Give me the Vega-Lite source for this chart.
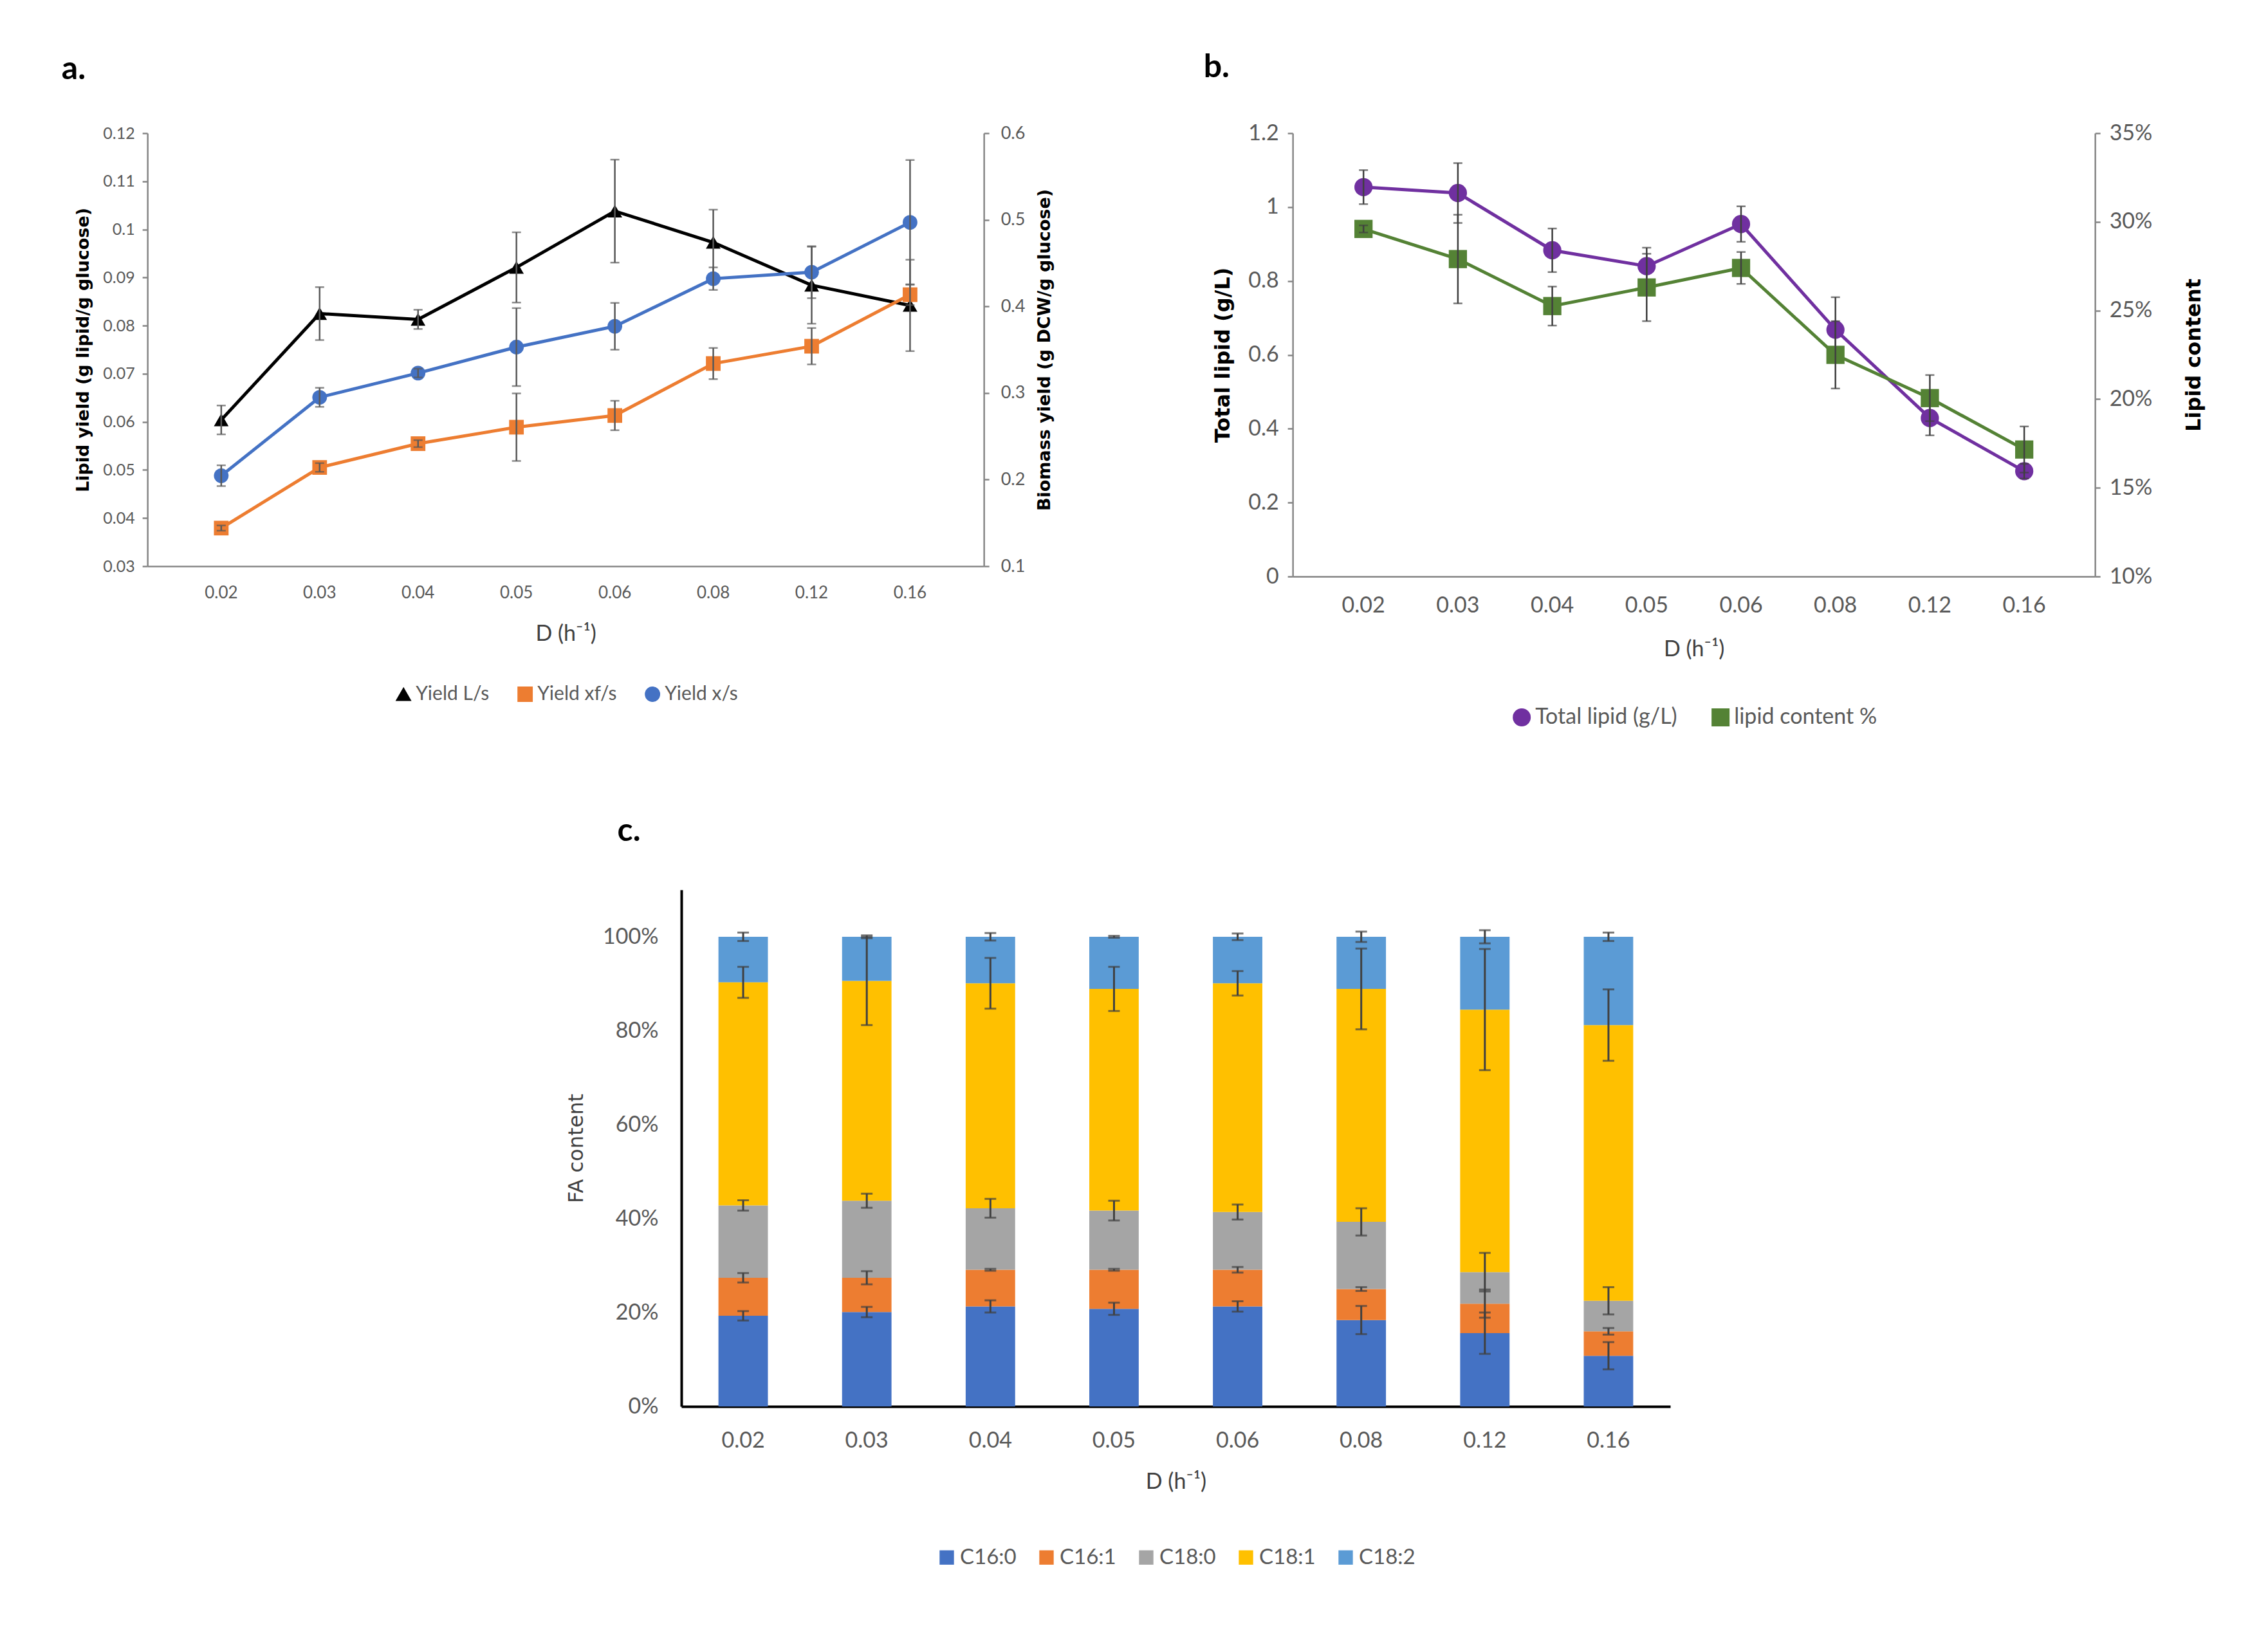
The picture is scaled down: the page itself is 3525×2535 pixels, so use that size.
{
  "$schema": "https://vega.github.io/schema/vega-lite/v6.json",
  "background": "white",
  "padding": {"left": 95, "top": 80, "right": 20, "bottom": 20},
  "config": {
    "view": {"stroke": null},
    "font": "Lato",
    "axis": {"labelFont": "Lato", "labelColor": "#595959", "titleColor": "#404040", "domainColor": "#868686", "tickColor": "#868686", "grid": false, "domainWidth": 2.5, "tickWidth": 2.5},
    "legend": {"labelFont": "Lato", "labelColor": "#595959", "orient": "bottom", "direction": "horizontal", "labelLimit": 0, "layout": {"bottom": {"anchor": "middle"}}},
    "title": {"font": "Lato", "fontWeight": "bold", "color": "#000000", "anchor": "start", "frame": "bounds"}
  },
  "datasets": {
    "a": [
      {"D": "0.02", "series": "Yield L/s", "v": 0.0604, "e": 0.003},
      {"D": "0.03", "series": "Yield L/s", "v": 0.0825, "e": 0.0055},
      {"D": "0.04", "series": "Yield L/s", "v": 0.0813, "e": 0.002},
      {"D": "0.05", "series": "Yield L/s", "v": 0.0921, "e": 0.0073},
      {"D": "0.06", "series": "Yield L/s", "v": 0.1038, "e": 0.0107},
      {"D": "0.08", "series": "Yield L/s", "v": 0.0973, "e": 0.0068},
      {"D": "0.12", "series": "Yield L/s", "v": 0.0884, "e": 0.008},
      {"D": "0.16", "series": "Yield L/s", "v": 0.0842, "e": 0.0095},
      {"D": "0.02", "series": "Yield xf/s", "v": 0.144, "e": 0.003},
      {"D": "0.03", "series": "Yield xf/s", "v": 0.214, "e": 0.005},
      {"D": "0.04", "series": "Yield xf/s", "v": 0.2415, "e": 0.004},
      {"D": "0.05", "series": "Yield xf/s", "v": 0.2605, "e": 0.039},
      {"D": "0.06", "series": "Yield xf/s", "v": 0.274, "e": 0.017},
      {"D": "0.08", "series": "Yield xf/s", "v": 0.334, "e": 0.018},
      {"D": "0.12", "series": "Yield xf/s", "v": 0.354, "e": 0.021},
      {"D": "0.16", "series": "Yield xf/s", "v": 0.4135, "e": 0.012},
      {"D": "0.02", "series": "Yield x/s", "v": 0.2045, "e": 0.012},
      {"D": "0.03", "series": "Yield x/s", "v": 0.295, "e": 0.011},
      {"D": "0.04", "series": "Yield x/s", "v": 0.323, "e": 0.005},
      {"D": "0.05", "series": "Yield x/s", "v": 0.353, "e": 0.045},
      {"D": "0.06", "series": "Yield x/s", "v": 0.377, "e": 0.027},
      {"D": "0.08", "series": "Yield x/s", "v": 0.432, "e": 0.013},
      {"D": "0.12", "series": "Yield x/s", "v": 0.4395, "e": 0.03},
      {"D": "0.16", "series": "Yield x/s", "v": 0.497, "e": 0.072}
    ],
    "b": [
      {"D": "0.02", "series": "Total lipid (g/L)", "v": 1.054, "e": 0.046},
      {"D": "0.03", "series": "Total lipid (g/L)", "v": 1.038, "e": 0.081},
      {"D": "0.04", "series": "Total lipid (g/L)", "v": 0.883, "e": 0.059},
      {"D": "0.05", "series": "Total lipid (g/L)", "v": 0.84, "e": 0.05},
      {"D": "0.06", "series": "Total lipid (g/L)", "v": 0.954, "e": 0.048},
      {"D": "0.08", "series": "Total lipid (g/L)", "v": 0.668, "e": 0.088},
      {"D": "0.12", "series": "Total lipid (g/L)", "v": 0.429, "e": 0.047},
      {"D": "0.16", "series": "Total lipid (g/L)", "v": 0.285, "e": 0.02},
      {"D": "0.02", "series": "lipid content %", "v": 0.296, "e": 0.002},
      {"D": "0.03", "series": "lipid content %", "v": 0.279, "e": 0.025},
      {"D": "0.04", "series": "lipid content %", "v": 0.2525, "e": 0.011},
      {"D": "0.05", "series": "lipid content %", "v": 0.263, "e": 0.019},
      {"D": "0.06", "series": "lipid content %", "v": 0.274, "e": 0.009},
      {"D": "0.08", "series": "lipid content %", "v": 0.225, "e": 0.019},
      {"D": "0.12", "series": "lipid content %", "v": 0.2006, "e": 0.013},
      {"D": "0.16", "series": "lipid content %", "v": 0.1716, "e": 0.013}
    ],
    "c": [
      {"D": "0.02", "FA": "C16:0", "v": 0.193, "e": 0.010},
      {"D": "0.02", "FA": "C16:1", "v": 0.081, "e": 0.010},
      {"D": "0.02", "FA": "C18:0", "v": 0.154, "e": 0.011},
      {"D": "0.02", "FA": "C18:1", "v": 0.475, "e": 0.033},
      {"D": "0.02", "FA": "C18:2", "v": 0.097, "e": 0.009},
      {"D": "0.03", "FA": "C16:0", "v": 0.201, "e": 0.011},
      {"D": "0.03", "FA": "C16:1", "v": 0.073, "e": 0.014},
      {"D": "0.03", "FA": "C18:0", "v": 0.164, "e": 0.015},
      {"D": "0.03", "FA": "C18:1", "v": 0.468, "e": 0.094},
      {"D": "0.03", "FA": "C18:2", "v": 0.094, "e": 0.003},
      {"D": "0.04", "FA": "C16:0", "v": 0.213, "e": 0.013},
      {"D": "0.04", "FA": "C16:1", "v": 0.078, "e": 0.002},
      {"D": "0.04", "FA": "C18:0", "v": 0.131, "e": 0.020},
      {"D": "0.04", "FA": "C18:1", "v": 0.479, "e": 0.054},
      {"D": "0.04", "FA": "C18:2", "v": 0.099, "e": 0.008},
      {"D": "0.05", "FA": "C16:0", "v": 0.208, "e": 0.013},
      {"D": "0.05", "FA": "C16:1", "v": 0.083, "e": 0.002},
      {"D": "0.05", "FA": "C18:0", "v": 0.126, "e": 0.021},
      {"D": "0.05", "FA": "C18:1", "v": 0.472, "e": 0.047},
      {"D": "0.05", "FA": "C18:2", "v": 0.111, "e": 0.002},
      {"D": "0.06", "FA": "C16:0", "v": 0.213, "e": 0.011},
      {"D": "0.06", "FA": "C16:1", "v": 0.078, "e": 0.006},
      {"D": "0.06", "FA": "C18:0", "v": 0.123, "e": 0.016},
      {"D": "0.06", "FA": "C18:1", "v": 0.487, "e": 0.026},
      {"D": "0.06", "FA": "C18:2", "v": 0.099, "e": 0.007},
      {"D": "0.08", "FA": "C16:0", "v": 0.184, "e": 0.030},
      {"D": "0.08", "FA": "C16:1", "v": 0.066, "e": 0.004},
      {"D": "0.08", "FA": "C18:0", "v": 0.143, "e": 0.029},
      {"D": "0.08", "FA": "C18:1", "v": 0.496, "e": 0.086},
      {"D": "0.08", "FA": "C18:2", "v": 0.111, "e": 0.011},
      {"D": "0.12", "FA": "C16:0", "v": 0.156, "e": 0.044},
      {"D": "0.12", "FA": "C16:1", "v": 0.063, "e": 0.030},
      {"D": "0.12", "FA": "C18:0", "v": 0.067, "e": 0.041},
      {"D": "0.12", "FA": "C18:1", "v": 0.559, "e": 0.129},
      {"D": "0.12", "FA": "C18:2", "v": 0.155, "e": 0.014},
      {"D": "0.16", "FA": "C16:0", "v": 0.108, "e": 0.029},
      {"D": "0.16", "FA": "C16:1", "v": 0.052, "e": 0.007},
      {"D": "0.16", "FA": "C18:0", "v": 0.065, "e": 0.029},
      {"D": "0.16", "FA": "C18:1", "v": 0.587, "e": 0.076},
      {"D": "0.16", "FA": "C18:2", "v": 0.188, "e": 0.009}
    ]
  },
  "spacing": 135,
  "center": true,
  "resolve": {"scale": {"color": "independent", "shape": "independent", "x": "independent", "y": "independent"}, "legend": {"color": "independent", "shape": "independent"}},
  "vconcat": [
    {
      "spacing": 233,
      "resolve": {"scale": {"color": "independent", "shape": "independent", "x": "independent", "y": "independent"}, "legend": {"color": "independent", "shape": "independent"}},
      "hconcat": [
        {
          "title": {"text": "a.", "fontSize": 50, "offset": 60, "dx": -20},
          "width": 1300,
          "height": 673,
          "data": {"name": "a"},
          "encoding": {
            "x": {"field": "D", "type": "ordinal", "sort": ["0.02", "0.03", "0.04", "0.05", "0.06", "0.08", "0.12", "0.16"], "scale": {"padding": 0.5},
              "axis": {"title": "D (h⁻¹)", "labelAngle": 0, "ticks": false, "labelFontSize": 26, "titleFontSize": 34, "titleFontWeight": "normal", "titleColor": "#404040", "labelPadding": 28, "titlePadding": 34}}
          },
          "resolve": {"scale": {"y": "independent"}},
          "layer": [
            {
              "transform": [{"filter": "datum.series === 'Yield L/s'"}],
              "encoding": {
                "y": {"field": "v", "type": "quantitative", "scale": {"domain": [0.03, 0.12]},
                  "axis": {"title": "Lipid yield (g lipid/g glucose)", "values": [0.03, 0.04, 0.05, 0.06, 0.07, 0.08, 0.09, 0.1, 0.11, 0.12], "format": ".2~f", "labelFontSize": 25, "titleFont": "DejaVu Sans", "titleFontSize": 27, "titleFontWeight": "bold", "titleColor": "#000000", "tickSize": 8, "labelPadding": 12, "titlePadding": 16}}
              },
              "layer": [
                {"mark": {"type": "line", "strokeWidth": 5},
                  "encoding": {"color": {"field": "series", "type": "nominal", "title": null, "scale": {"domain": ["Yield L/s", "Yield xf/s", "Yield x/s"], "range": ["#000000", "#ED7D31", "#4472C4"]}}}},
                {"mark": {"type": "point", "filled": true, "size": 520, "opacity": 1},
                  "encoding": {
                    "color": {"field": "series", "type": "nominal", "title": null, "scale": {"domain": ["Yield L/s", "Yield xf/s", "Yield x/s"], "range": ["#000000", "#ED7D31", "#4472C4"]},
                      "legend": {"labelFontSize": 30, "symbolSize": 500, "columnPadding": 40, "offset": 62}},
                    "shape": {"field": "series", "type": "nominal", "title": null, "scale": {"domain": ["Yield L/s", "Yield xf/s", "Yield x/s"], "range": ["triangle-up", "square", "circle"]}}
                  }},
                {"mark": {"type": "errorbar", "ticks": {"size": 14}, "color": "#595959", "thickness": 2.5},
                  "encoding": {"yError": {"field": "e"}}}
              ]
            },
            {
              "transform": [{"filter": "datum.series !== 'Yield L/s'"}],
              "encoding": {
                "y": {"field": "v", "type": "quantitative", "scale": {"domain": [0.1, 0.6]},
                  "axis": {"orient": "right", "title": "Biomass yield (g DCW/g glucose)", "titleAngle": 270, "titleBaseline": "top", "values": [0.1, 0.2, 0.3, 0.4, 0.5, 0.6], "format": ".1f", "labelFontSize": 27, "titleFont": "DejaVu Sans", "titleFontSize": 27, "titleFontWeight": "bold", "titleColor": "#000000", "tickSize": 8, "labelPadding": 18, "titlePadding": 18}}
              },
              "layer": [
                {"mark": {"type": "line", "strokeWidth": 5},
                  "encoding": {"color": {"field": "series", "type": "nominal", "title": null, "scale": {"domain": ["Yield L/s", "Yield xf/s", "Yield x/s"], "range": ["#000000", "#ED7D31", "#4472C4"]}}}},
                {"mark": {"type": "point", "filled": true, "size": 520, "opacity": 1},
                  "encoding": {
                    "color": {"field": "series", "type": "nominal", "title": null, "scale": {"domain": ["Yield L/s", "Yield xf/s", "Yield x/s"], "range": ["#000000", "#ED7D31", "#4472C4"]}},
                    "shape": {"field": "series", "type": "nominal", "title": null, "scale": {"domain": ["Yield L/s", "Yield xf/s", "Yield x/s"], "range": ["triangle-up", "square", "circle"]}}
                  }},
                {"mark": {"type": "errorbar", "ticks": {"size": 14}, "color": "#595959", "thickness": 2.5},
                  "encoding": {"yError": {"field": "e"}}}
              ]
            }
          ]
        },
        {
          "title": {"text": "b.", "fontSize": 50, "offset": 60, "dx": -14},
          "width": 1247,
          "height": 689,
          "data": {"name": "b"},
          "encoding": {
            "x": {"field": "D", "type": "ordinal", "sort": ["0.02", "0.03", "0.04", "0.05", "0.06", "0.08", "0.12", "0.16"], "scale": {"padding": 0.5},
              "axis": {"title": "D (h⁻¹)", "labelAngle": 0, "ticks": false, "labelFontSize": 34, "titleFontSize": 34, "titleFontWeight": "normal", "titleColor": "#404040", "labelPadding": 28, "titlePadding": 34}}
          },
          "resolve": {"scale": {"y": "independent"}},
          "layer": [
            {
              "transform": [{"filter": "datum.series === 'Total lipid (g/L)'"}],
              "encoding": {
                "y": {"field": "v", "type": "quantitative", "scale": {"domain": [0, 1.2]},
                  "axis": {"title": "Total lipid (g/L)", "values": [0, 0.2, 0.4, 0.6, 0.8, 1, 1.2], "format": ".1~f", "labelFontSize": 34, "titleFont": "DejaVu Sans", "titleFontSize": 32, "titleFontWeight": "bold", "titleColor": "#000000", "tickSize": 8, "labelPadding": 14, "titlePadding": 22}}
              },
              "layer": [
                {"mark": {"type": "line", "strokeWidth": 5},
                  "encoding": {"color": {"field": "series", "type": "nominal", "title": null, "scale": {"domain": ["Total lipid (g/L)", "lipid content %"], "range": ["#7030A0", "#548235"]}}}},
                {"mark": {"type": "point", "filled": true, "size": 800, "opacity": 1},
                  "encoding": {
                    "color": {"field": "series", "type": "nominal", "title": null, "scale": {"domain": ["Total lipid (g/L)", "lipid content %"], "range": ["#7030A0", "#548235"]},
                      "legend": {"labelFontSize": 34, "symbolSize": 700, "columnPadding": 50, "labelLimit": 0, "offset": 72}},
                    "shape": {"field": "series", "type": "nominal", "title": null, "scale": {"domain": ["Total lipid (g/L)", "lipid content %"], "range": ["circle", "square"]}}
                  }},
                {"mark": {"type": "errorbar", "ticks": {"size": 14}, "color": "#404040", "thickness": 2.5},
                  "encoding": {"yError": {"field": "e"}}}
              ]
            },
            {
              "transform": [{"filter": "datum.series === 'lipid content %'"}],
              "encoding": {
                "y": {"field": "v", "type": "quantitative", "scale": {"domain": [0.1, 0.35]},
                  "axis": {"orient": "right", "title": "Lipid content", "titleAngle": 270, "titleBaseline": "top", "values": [0.1, 0.15, 0.2, 0.25, 0.3, 0.35], "format": ".0%", "labelFontSize": 34, "titleFont": "DejaVu Sans", "titleFontSize": 32, "titleFontWeight": "bold", "titleColor": "#000000", "tickSize": 8, "labelPadding": 14, "titlePadding": 50}}
              },
              "layer": [
                {"mark": {"type": "line", "strokeWidth": 5},
                  "encoding": {"color": {"field": "series", "type": "nominal", "title": null, "scale": {"domain": ["Total lipid (g/L)", "lipid content %"], "range": ["#7030A0", "#548235"]}}}},
                {"mark": {"type": "point", "filled": true, "size": 800, "opacity": 1},
                  "encoding": {
                    "color": {"field": "series", "type": "nominal", "title": null, "scale": {"domain": ["Total lipid (g/L)", "lipid content %"], "range": ["#7030A0", "#548235"]}},
                    "shape": {"field": "series", "type": "nominal", "title": null, "scale": {"domain": ["Total lipid (g/L)", "lipid content %"], "range": ["circle", "square"]}}
                  }},
                {"mark": {"type": "errorbar", "ticks": {"size": 14}, "color": "#404040", "thickness": 2.5},
                  "encoding": {"yError": {"field": "e"}}}
              ]
            }
          ]
        }
      ]
    },
    {
      "title": {"text": "c.", "fontSize": 50, "offset": 66, "dx": 80},
      "width": 1537,
      "height": 803,
      "data": {"name": "c"},
      "encoding": {
        "x": {"field": "D", "type": "ordinal", "sort": ["0.02", "0.03", "0.04", "0.05", "0.06", "0.08", "0.12", "0.16"], "scale": {"paddingInner": 0.6, "paddingOuter": 0.3},
          "axis": {"title": "D (h⁻¹)", "labelAngle": 0, "ticks": false, "labelFontSize": 34, "titleFontSize": 34, "titleFontWeight": "normal", "titleColor": "#404040", "labelPadding": 36, "titlePadding": 30, "domainColor": "#000000", "domainWidth": 4}}
      },
      "layer": [
        {"mark": {"type": "bar"},
          "encoding": {
            "y": {"field": "v", "type": "quantitative", "stack": "zero", "title": "FA content", "scale": {"domain": [0, 1.1]},
              "axis": {"values": [0, 0.2, 0.4, 0.6, 0.8, 1], "format": ".0%", "ticks": false, "labelFontSize": 34, "labelPadding": 36, "titleFont": "DejaVu Sans", "titleFontSize": 32, "titleFontWeight": "normal", "titleColor": "#404040", "titlePadding": 24, "domainColor": "#000000", "domainWidth": 4}},
            "color": {"field": "FA", "type": "nominal", "title": null, "scale": {"domain": ["C16:0", "C16:1", "C18:0", "C18:1", "C18:2"], "range": ["#4472C4", "#ED7D31", "#A5A5A5", "#FFC000", "#5B9BD5"]},
              "legend": {"labelFontSize": 33, "symbolType": "square", "symbolSize": 500, "columnPadding": 30, "offset": 84}},
            "order": {"field": "FA", "type": "nominal", "sort": "ascending"}
          }},
        {"transform": [{"stack": "v", "groupby": ["D"], "sort": [{"field": "FA", "order": "ascending"}], "as": ["y0", "y1"]}],
          "mark": {"type": "errorbar", "ticks": {"size": 18}, "color": "#404040", "thickness": 3},
          "encoding": {
            "y": {"field": "y1", "type": "quantitative", "title": "FA content"},
            "yError": {"field": "e"}
          }}
      ]
    }
  ]
}
